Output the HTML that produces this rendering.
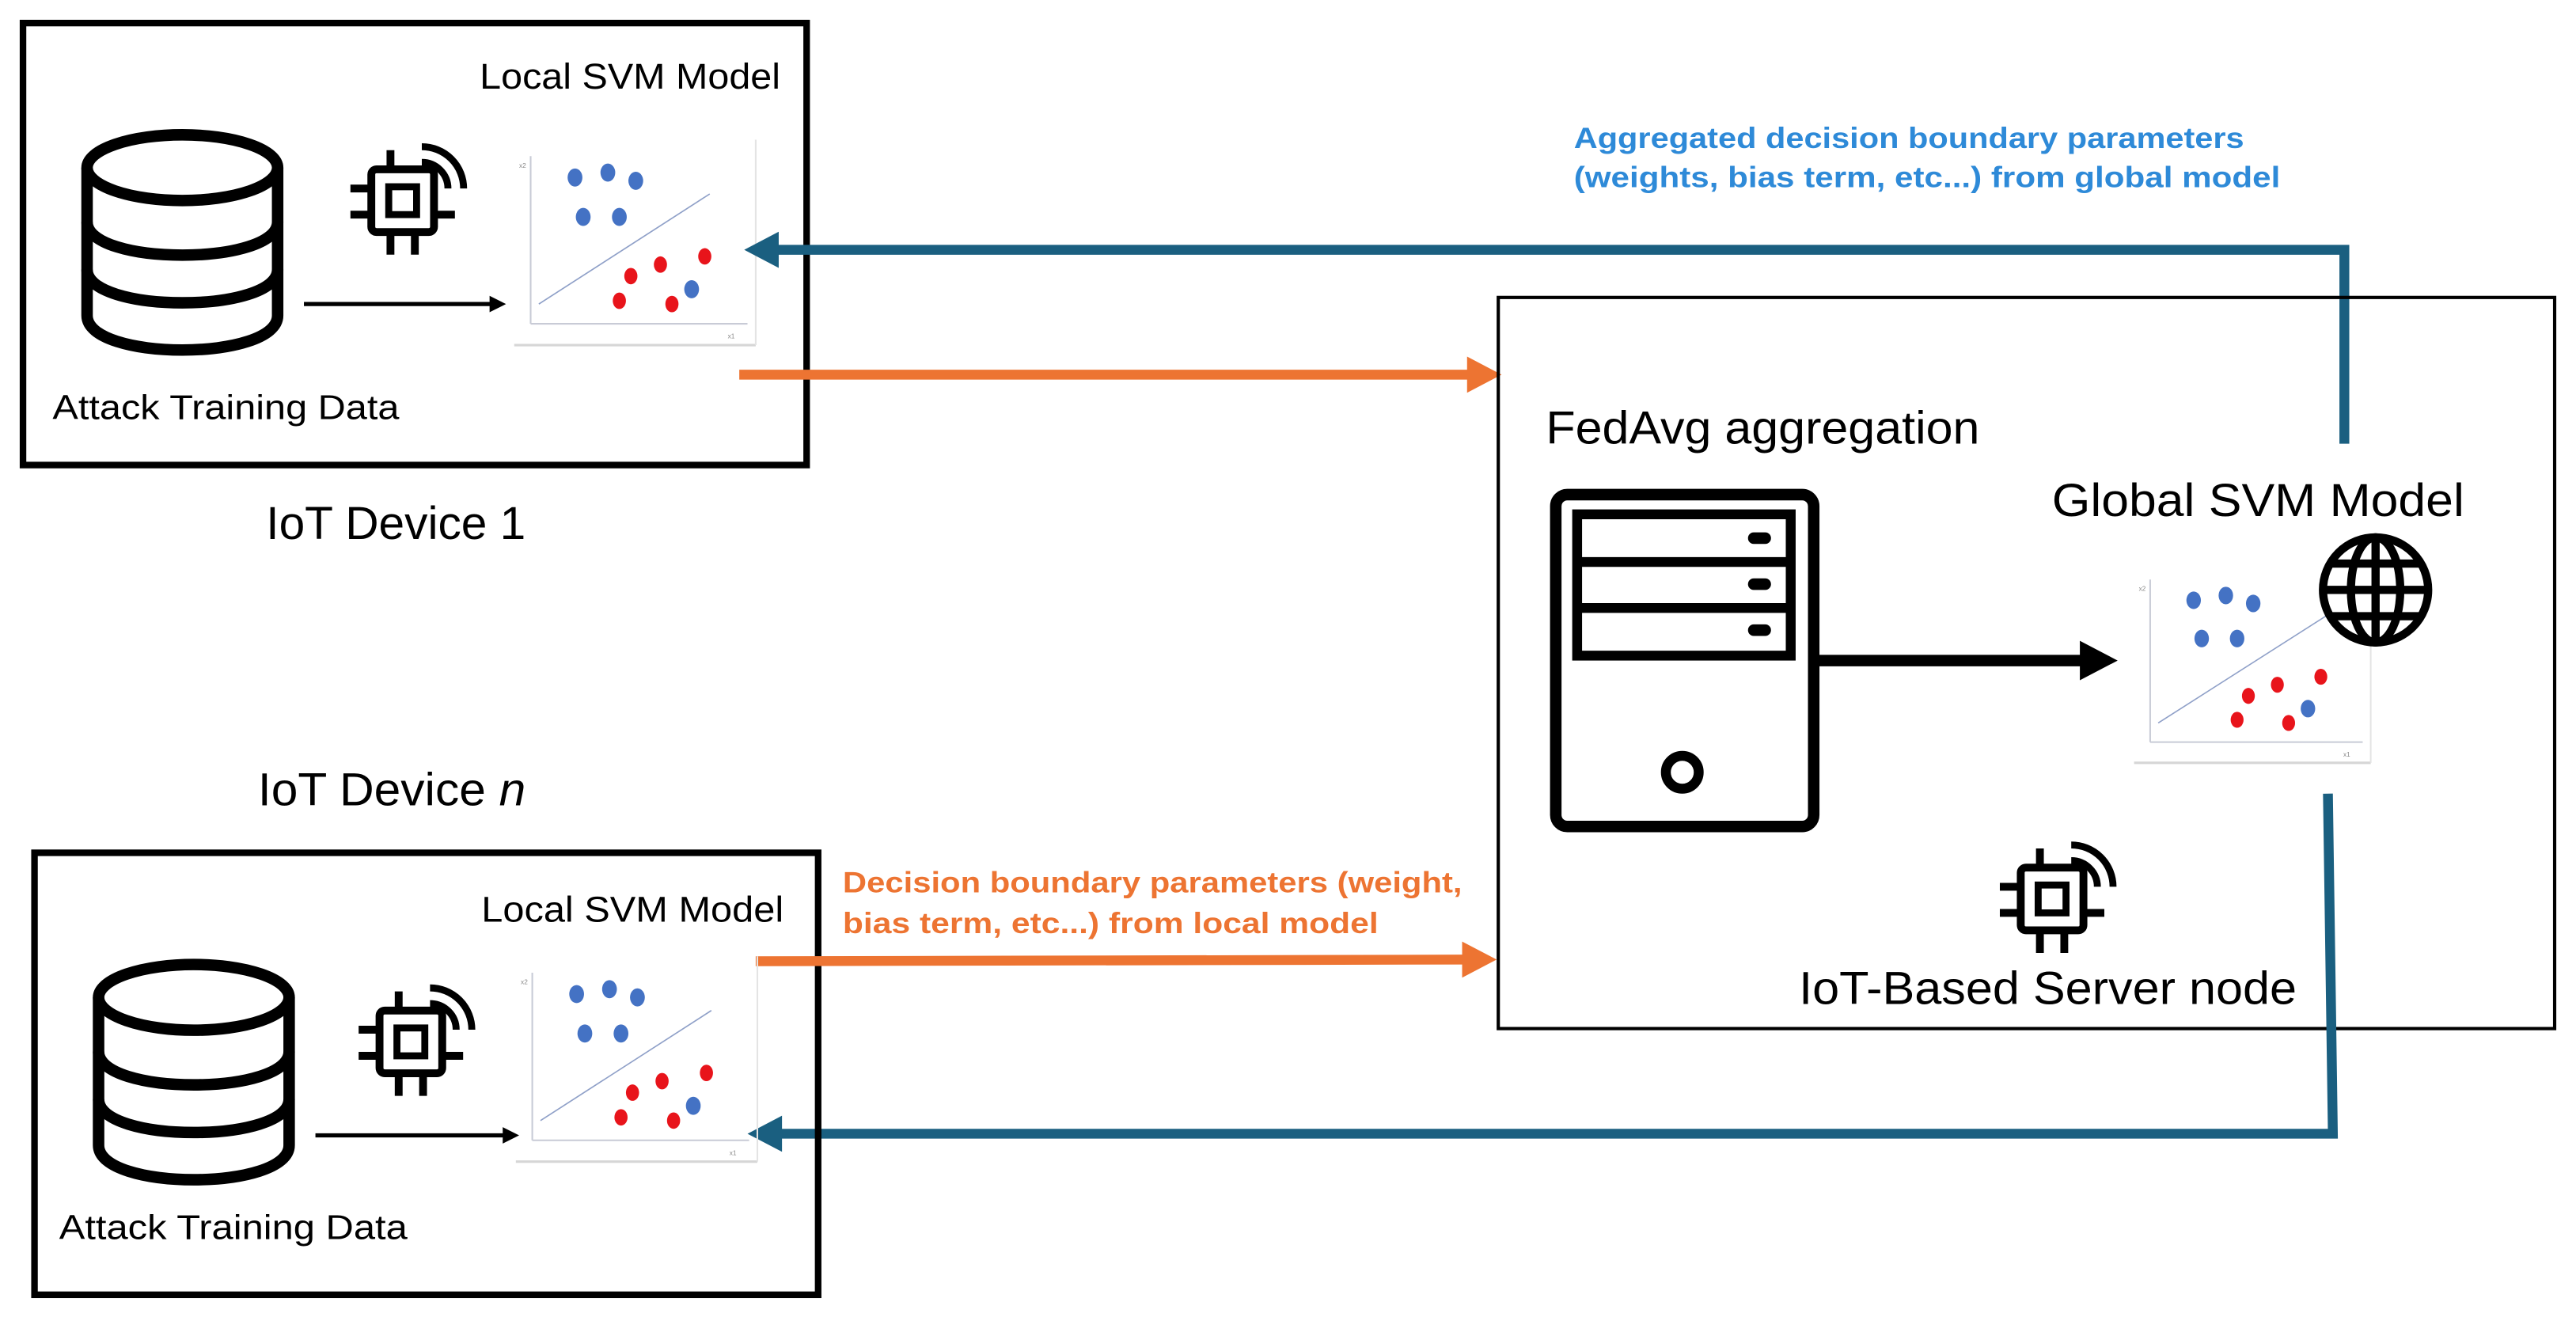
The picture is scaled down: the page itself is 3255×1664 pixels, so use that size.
<!DOCTYPE html>
<html><head><meta charset="utf-8"><style>html,body{margin:0;padding:0;background:#fff}svg{display:block}</style></head>
<body>
<svg width="3255" height="1664" viewBox="0 0 1568 801.5" xmlns="http://www.w3.org/2000/svg" font-family="Liberation Sans Narrow, Liberation Sans, sans-serif">
<defs>
<g id="plot">
<line x1="0" y1="125" x2="147" y2="125" stroke="#d6d6d6" stroke-width="1.5"/>
<line x1="147" y1="0" x2="147" y2="125" stroke="#e4e4e4" stroke-width="1"/>
<line x1="10" y1="10" x2="10" y2="112" stroke="#c8cbd6" stroke-width="1"/>
<line x1="10" y1="112" x2="142" y2="112" stroke="#c8cbd6" stroke-width="1"/>
<line x1="15" y1="100" x2="119" y2="33" stroke="#8fa0c8" stroke-width="0.8"/>
<text x="3" y="17" font-size="4" fill="#888">x2</text>
<text x="130" y="121" font-size="4" fill="#888">x1</text>
<g fill="#4472c4">
<ellipse cx="37" cy="23" rx="4.5" ry="5.5"/><ellipse cx="57" cy="20" rx="4.5" ry="5.5"/><ellipse cx="74" cy="25" rx="4.5" ry="5.5"/>
<ellipse cx="42" cy="47" rx="4.5" ry="5.5"/><ellipse cx="64" cy="47" rx="4.5" ry="5.5"/><ellipse cx="108" cy="91" rx="4.5" ry="5.5"/></g>
<g fill="#e8141b">
<ellipse cx="116" cy="71" rx="4" ry="5"/><ellipse cx="89" cy="76" rx="4" ry="5"/><ellipse cx="71" cy="83" rx="4" ry="5"/>
<ellipse cx="64" cy="98" rx="4" ry="5"/><ellipse cx="96" cy="100" rx="4" ry="5"/></g>
</g>
<g id="db" fill="none" stroke="#000" stroke-width="7">
<ellipse cx="63" cy="22" rx="58" ry="20"/>
<path d="M5 22 V112 C5 140 121 140 121 112 V22"/>
<path d="M5 55 C5 82 121 82 121 55"/>
<path d="M5 84 C5 111 121 111 121 84"/>
</g>
<g id="chip0" fill="none" stroke="#000" stroke-width="4.5">
<rect x="17" y="17" width="36" height="36" rx="3"/>
<rect x="27" y="27" width="16" height="16" stroke-width="4"/>
<path d="M28 17 V6 M28 53 V66 M42 53 V66 M17 28 H5 M17 43 H5 M53 43 H65"/>
<path d="M46 4 A24 24 0 0 1 70 28" stroke-width="4"/>
<path d="M46 13 A15 15 0 0 1 61 28" stroke-width="4"/>
</g>
<g id="chip"><use href="#chip0" transform="scale(1.06)"/></g>
</defs>

<rect x="14" y="14" width="477" height="269" fill="none" stroke="#000" stroke-width="4"/>
<text x="292" y="54" font-size="22" textLength="183" lengthAdjust="spacingAndGlyphs">Local SVM Model</text>
<use href="#db" x="48" y="80"/>
<use href="#chip" x="208" y="85"/>
<line x1="185" y1="185" x2="300" y2="185" stroke="#000" stroke-width="2.5"/>
<polygon points="298,180 308,185 298,190" fill="#000"/>
<use href="#plot" x="313" y="85"/>
<text x="32" y="255" font-size="21" textLength="211" lengthAdjust="spacingAndGlyphs">Attack Training Data</text>
<text x="162" y="328" font-size="28" textLength="158" lengthAdjust="spacingAndGlyphs">IoT Device 1</text>

<g fill="#2e8ad8" font-weight="bold" font-size="18">
<text x="958" y="90" textLength="408" lengthAdjust="spacingAndGlyphs">Aggregated decision boundary parameters</text>
<text x="958" y="114" textLength="430" lengthAdjust="spacingAndGlyphs">(weights, bias term, etc...) from global model</text>
</g>

<path d="M1427 270 V152 H472" fill="none" stroke="#1a5f80" stroke-width="6"/>
<polygon points="474,141 453,152 474,163" fill="#1a5f80"/>

<line x1="450" y1="228" x2="895" y2="228" stroke="#ed7432" stroke-width="6"/>
<polygon points="893,217 914,228 893,239" fill="#ed7432"/>

<rect x="912" y="181" width="643" height="445" fill="none" stroke="#000" stroke-width="2"/>
<text x="941" y="270" font-size="28" textLength="264" lengthAdjust="spacingAndGlyphs">FedAvg aggregation</text>
<g fill="none" stroke="#000" stroke-width="7">
<rect x="947" y="301" width="157" height="202" rx="7"/>
<rect x="960" y="313" width="130" height="86" stroke-width="6"/>
<line x1="960" y1="342" x2="1090" y2="342" stroke-width="6"/>
<line x1="960" y1="370" x2="1090" y2="370" stroke-width="6"/>
<circle cx="1024" cy="470" r="10" stroke-width="6"/>
</g>
<g fill="#000"><rect x="1064" y="324" width="14" height="7" rx="3.5"/><rect x="1064" y="352" width="14" height="7" rx="3.5"/><rect x="1064" y="380" width="14" height="7" rx="3.5"/></g>
<line x1="1106" y1="402" x2="1268" y2="402" stroke="#000" stroke-width="7"/>
<polygon points="1266,390 1289,402 1266,414" fill="#000"/>
<text x="1249" y="314" font-size="28" textLength="251" lengthAdjust="spacingAndGlyphs">Global SVM Model</text>
<use href="#plot" x="1299" y="343" transform="translate(1299 343) scale(0.98 0.97) translate(-1299 -343)"/>
<g fill="none" stroke="#000" stroke-width="5">
<circle cx="1446" cy="359" r="32" fill="#fff"/>
<ellipse cx="1446" cy="359" rx="15" ry="32"/>
<line x1="1446" y1="327" x2="1446" y2="391"/>
<line x1="1414" y1="359" x2="1478" y2="359"/>
<path d="M1419 343 H1473 M1419 375 H1473"/>
</g>
<use href="#chip" x="1212" y="510"/>
<text x="1095" y="611" font-size="28" textLength="303" lengthAdjust="spacingAndGlyphs">IoT-Based Server node</text>

<path d="M1417 483 L1420 690 H474" fill="none" stroke="#1a5f80" stroke-width="6"/>
<polygon points="476,679 455,690 476,701" fill="#1a5f80"/>

<text x="157" y="490" font-size="28" textLength="163" lengthAdjust="spacingAndGlyphs">IoT Device <tspan font-style="italic">n</tspan></text>
<rect x="21" y="519" width="477" height="269" fill="none" stroke="#000" stroke-width="4"/>
<text x="293" y="561" font-size="22" textLength="184" lengthAdjust="spacingAndGlyphs">Local SVM Model</text>
<g fill="#ed7432" font-weight="bold" font-size="18">
<text x="513" y="543" textLength="377" lengthAdjust="spacingAndGlyphs">Decision boundary parameters (weight,</text>
<text x="513" y="568" textLength="326" lengthAdjust="spacingAndGlyphs">bias term, etc...) from local model</text>
</g>
<line x1="460" y1="585" x2="892" y2="584" stroke="#ed7432" stroke-width="6"/>
<polygon points="890,573 911,584 890,595" fill="#ed7432"/>
<use href="#db" x="55" y="585"/>
<use href="#chip" x="213" y="597"/>
<line x1="192" y1="691" x2="308" y2="691" stroke="#000" stroke-width="2.5"/>
<polygon points="306,686 316,691 306,696" fill="#000"/>
<use href="#plot" x="314" y="582"/>
<text x="36" y="754" font-size="21" textLength="212" lengthAdjust="spacingAndGlyphs">Attack Training Data</text>
</svg>
</body></html>
